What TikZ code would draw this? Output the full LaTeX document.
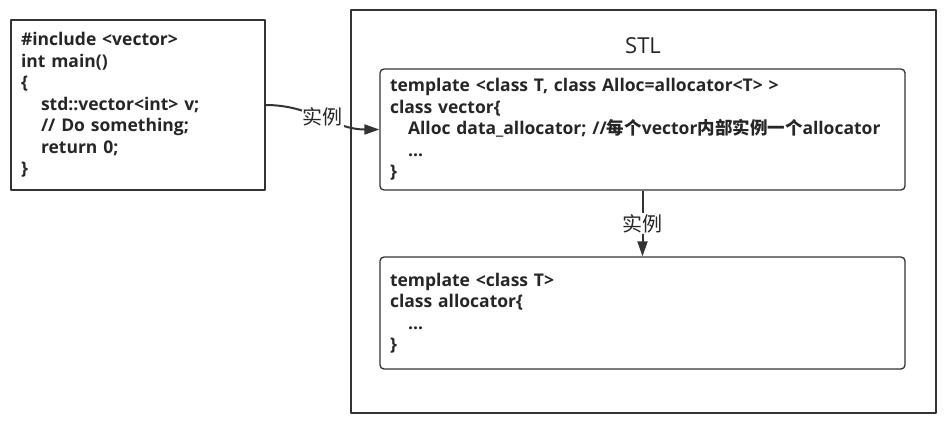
\documentclass[tikz,border=0pt]{standalone}
\usepackage{fontspec}
\setmainfont{Open Sans}
\newfontfamily\cjk{Noto Sans CJK SC}
\usetikzlibrary{arrows.meta, positioning}

\begin{document}
\begin{tikzpicture}[x=1pt, y=-1pt, line join=round,
    every node/.style={text=black!85},
    codebox/.style={draw=black!80, line width=1.3pt, align=left, inner xsep=10pt,
        inner ysep=0pt, font=\fontsize{17.5}{21.5}\selectfont\bfseries},
    classbox/.style={codebox, rounded corners=4pt, text width=505pt},
    link/.style={draw=black!80, line width=2pt, -{Triangle[length=15pt, width=10pt]}},
    linklabel/.style={fill=white, inner sep=1pt, font=\fontsize{20}{22}\selectfont\cjk}]
    \useasboundingbox (0,0) rectangle (952,426);
    % STL frame
    \node[draw=black!80, line width=1.3pt, minimum width=585pt, minimum height=403pt] (stl) at (643.5,211.5) {};
    \node[font=\fontsize{22}{24}\selectfont] (stltitle) at (643,46) {STL};
    % user code
    \node[codebox, text width=234pt, minimum height=170pt] (usercode) at (138,105) {%
        \#include <vector>\\
        int main()\\
        \{\\
        \hspace*{20pt}std::vector<int> v;\\
        \hspace*{20pt}// Do something;\\
        \hspace*{20pt}return 0;\\
        \}};
    % class templates
    \node[classbox, minimum height=121pt] (vector) at (642.5,129.5) {%
        template <class T, class Alloc=allocator<T> >\\
        class vector\{\\
        \hspace*{18pt}Alloc data\_allocator; //{\cjk 每个}vector{\cjk 内部实例一个}allocator\\
        \hspace*{18pt}\dots\\
        \}};
    \node[classbox, minimum height=112pt] (allocator) at (642.5,313) {%
        template <class T>\\
        class allocator\{\\
        \hspace*{18pt}\dots\\
        \}};
    % instantiation
    \draw[link] (usercode.east) to[out=0, in=180] node[linklabel] {实例} (vector.west);
    \draw[link] (vector.south) -- node[linklabel] {实例} (allocator.north);
\end{tikzpicture}
\end{document}
